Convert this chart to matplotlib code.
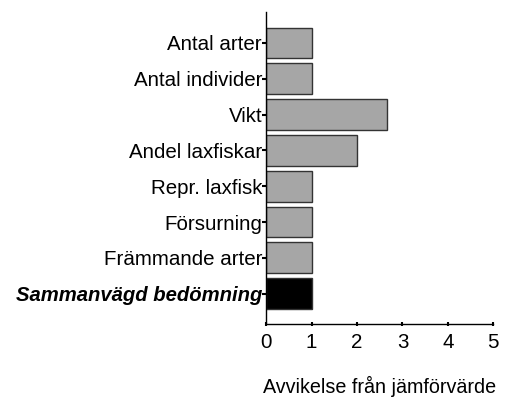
import matplotlib
matplotlib.use("Agg")
import matplotlib.pyplot as plt

categories = ["Antal arter", "Antal individer", "Vikt", "Andel laxfiskar",
              "Repr. laxfisk", "Försurning", "Främmande arter", "Sammanvägd bedömning"]
values = [1.0, 1.0, 2.65, 2.0, 1.0, 1.0, 1.0, 1.0]
colors = ["#a6a6a6"] * 7 + ["#000000"]
xticks = [0, 1, 2, 3, 4, 5]

plt.rcParams['font.family'] = ['Liberation Sans', 'DejaVu Sans']

fig = plt.figure(figsize=(5.10, 4.01), dpi=100)
ax = fig.add_axes([0.522, 0.1913, 0.445, 0.778])

pos = list(range(len(categories)))
ax.barh(pos, values, height=0.857, color=colors, edgecolor="#333333", linewidth=1.0)
ax.set_ylim(len(categories) - 1 + 0.857, -0.857)
ax.set_xlim(0, 5)
ax.set_yticks(pos)
ax.set_yticklabels(categories, fontsize=14.8)
lab = ax.get_yticklabels()[-1]
lab.set_fontweight("bold")
lab.set_fontstyle("italic")
lab.set_fontsize(14.6)
ax.set_xticks(xticks)
ax.set_xticklabels([str(t) for t in xticks], fontsize=14.8)

for s in ["top", "right"]:
    ax.spines[s].set_visible(False)
for s in ["left", "bottom"]:
    ax.spines[s].set_linewidth(1.0)
    ax.spines[s].set_color("black")

ax.tick_params(axis="y", direction="out", length=3, width=1.5, pad=0)
ax.tick_params(axis="x", direction="inout", length=3, width=1.5, pad=5)
ax.set_xlabel("Avvikelse från jämförvärde", fontsize=14.2, labelpad=17)

fig.savefig("out.png", dpi=100)
